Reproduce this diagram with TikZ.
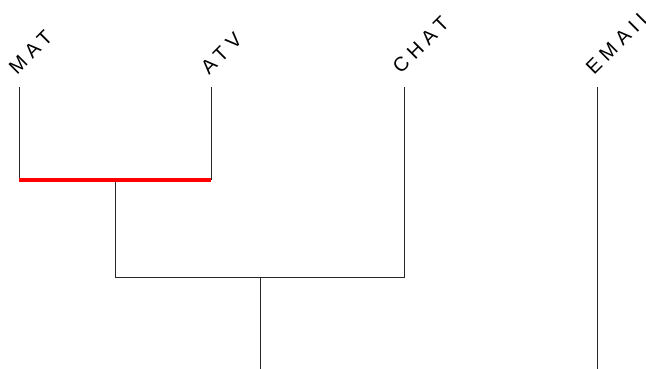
\documentclass[tikz,border=0pt]{standalone}
\usepackage{fontspec}
\setmainfont{Liberation Sans}[LetterSpace=28]
\begin{document}
\begin{tikzpicture}[x=1pt,y=-1pt,
  leaflabel/.style={rotate=45,anchor=south west,inner sep=0pt,font=\fontsize{20}{22}\selectfont},
  branch/.style={draw=black!85,line width=1pt},
  redbranch/.style={draw=red,line width=3.5pt}]
\useasboundingbox (0,0) rectangle (646,369);
% leaf tops
\coordinate (mat) at (19,87);
\coordinate (atv) at (211,87);
\coordinate (chat) at (404,87);
\coordinate (email) at (597,87);
% labels
\node[leaflabel] (lmat) at (17,76) {MAT};
\node[leaflabel] (latv) at (209,76) {ATV};
\node[leaflabel] (lchat) at (401,75) {CHAT};
\node[leaflabel] (lemail) at (594,76) {EMAIL};
% joins
\coordinate (matb) at (19,180);
\coordinate (atvb) at (211,180);
\coordinate (j1) at (115,180);
\coordinate (j1b) at (115,277);
\coordinate (chatb) at (404,277);
\coordinate (j2) at (260,277);
\coordinate (j2b) at (260,369);
\coordinate (emailb) at (597,369);
\draw[branch] (mat) -- (matb);
\draw[branch] (atv) -- (atvb);
\draw[branch] (j1) -- (j1b) -- (chatb) -- (chat);
\draw[branch] (j2) -- (j2b);
\draw[branch] (email) -- (emailb);
\draw[redbranch] (matb) -- (atvb);
\end{tikzpicture}
\end{document}
